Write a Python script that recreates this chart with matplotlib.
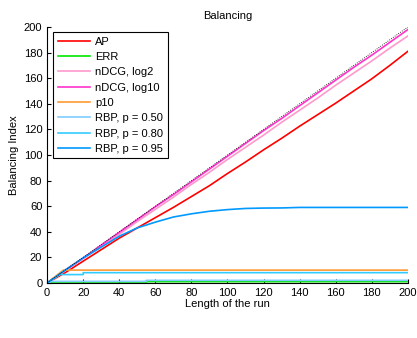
import numpy as np
import matplotlib
matplotlib.use('agg')
import matplotlib.pyplot as plt

plt.rcParams['font.family'] = ['Liberation Sans', 'DejaVu Sans']

run_len = [0, 10, 20, 30, 40, 50, 60, 70, 80, 90, 100, 110, 120, 130, 140, 150, 160, 170, 180, 190, 200]
ap = [0, 8, 17, 26, 35, 43, 51, 59, 67.5, 76, 85.5, 94.5, 104, 113, 122.5, 131.5, 140.5, 150, 159.5, 170, 181]
ndcg_log2 = [0, 9.5, 19, 28.5, 38, 48, 57.5, 67, 77, 86.5, 96.5, 106, 115.5, 125.5, 135, 144.5, 154.5, 164, 173.5, 183.5, 193]
ndcg_log10 = [0, 10, 19.5, 29.5, 39.5, 49.5, 59.5, 69, 79, 89, 99, 109, 119, 128.5, 138.5, 148.5, 158.5, 168.5, 178, 188, 198]
rbp_095 = [0, 10, 19.5, 28, 36.5, 43, 47.5, 51.5, 54, 56, 57.3, 58.2, 58.5, 58.6, 59, 59, 59, 59, 59, 59, 59]
upper = [0, 10, 20, 30, 40, 50, 60, 70, 80, 90, 100, 110, 120, 130, 140, 150, 160, 170, 180, 190, 200]

# the flat measures, with the points where they change
p10_x = [0, 9, 200]
p10 = [0, 10, 10]
rbp_080_x = [0, 7, 20, 20, 200]
rbp_080 = [0, 6.5, 6.5, 8, 8]
rbp_050_x = [0, 3, 55, 55, 200]
rbp_050 = [0, 1.2, 1.2, 2, 2]
err_x = [0, 3, 55, 55, 200]
err = [0, 0.7, 0.7, 1, 1]

fig = plt.figure(figsize=(4.17, 3.38), dpi=100)
ax = fig.add_axes([0.113, 0.163, 0.865, 0.757])

ax.plot(run_len, ap, color=(1, 0, 0), lw=1.2, label='AP')
ax.plot(err_x, err, color=(0, 0.9, 0), lw=1.2, label='ERR')
ax.plot(run_len, ndcg_log2, color=(1, 0.6, 0.8), lw=1.2, label='nDCG, log2')
ax.plot(run_len, ndcg_log10, color=(1, 0.2, 0.8), lw=1.2, label='nDCG, log10')
ax.plot(p10_x, p10, color=(1, 0.6, 0.2), lw=1.2, label='p10')
ax.plot(rbp_050_x, rbp_050, color=(0.5, 0.8, 1), lw=1.2, label='RBP, p = 0.50')
ax.plot(rbp_080_x, rbp_080, color=(0.2, 0.8, 1), lw=1.2, label='RBP, p = 0.80')
ax.plot(run_len, rbp_095, color=(0, 0.6, 1), lw=1.2, label='RBP, p = 0.95')
ax.plot(run_len, upper, color='k', ls=':', lw=0.6)

ax.set_xlim(0, 200)
ax.set_ylim(0, 200)
ax.set_xticks(range(0, 201, 20))
ax.set_yticks(range(0, 201, 20))
ax.tick_params(direction='in', length=3, labelsize=8, width=0.8)
for side in ['top', 'right']:
    ax.spines[side].set_visible(False)

ax.set_title('Balancing', fontsize=8, pad=6)
ax.set_xlabel('Length of the run', fontsize=8, labelpad=1)
ax.set_ylabel('Balancing Index', fontsize=8, labelpad=3)

leg = ax.legend(loc='upper left', bbox_to_anchor=(0.017, 0.98), fontsize=8,
                fancybox=False, framealpha=1, edgecolor='k', handlelength=2.9,
                labelspacing=0.48, borderpad=0.4, handletextpad=0.5, borderaxespad=0)
leg.get_frame().set_linewidth(0.8)

plt.savefig('out.png', dpi=100)
